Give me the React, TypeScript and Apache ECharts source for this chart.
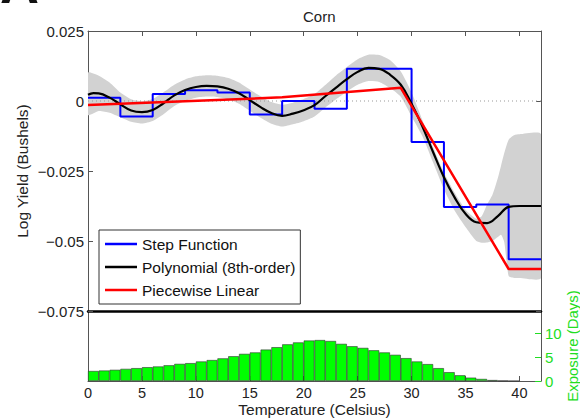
import React, { useEffect, useRef } from "react";
import * as echarts from "echarts";

// ---- data ----
const stepEdges = [0, 3, 6, 9, 12, 15, 18, 21, 24, 27, 30, 33, 36, 39, 42];
const stepValues = [0.0012, -0.0055, 0.0025, 0.0038, 0.003, -0.0048, 0.0, -0.0028, 0.0115, 0.0115, -0.0146, -0.0379, -0.037, -0.0565];

const polyX = [0, 0.5, 1, 2, 3, 4, 5, 6, 7, 8, 9, 10, 11, 12, 13, 14, 15, 16, 17, 18, 19, 20, 21, 22, 23, 24, 25, 26, 27, 28, 29, 30, 31, 32, 33, 34, 35, 36, 37, 38, 39, 40, 42];
const polyY = [0.0022, 0.0028, 0.0027, 0.0012, -0.0012, -0.0034, -0.004, -0.0032, -0.0008, 0.002, 0.0039, 0.005, 0.0054, 0.0052, 0.0044, 0.0028, 0.0003, -0.0022, -0.0043, -0.0053, -0.0045, -0.0033, -0.0015, 0.0017, 0.0048, 0.0078, 0.0104, 0.0118, 0.0115, 0.0094, 0.0058, -0.001, -0.009, -0.0183, -0.0272, -0.0345, -0.0403, -0.0433, -0.0436, -0.0411, -0.0378, -0.0375, -0.0375];

const linX = [0, 18, 29, 39, 42];
const linY = [-0.0014, 0.0013, 0.0047, -0.06, -0.06];

const bandX = [0, 1, 2, 3, 4, 5, 6, 7, 8, 9, 10, 11, 12, 13, 14, 15, 16, 17, 18, 19, 20, 21, 22, 23, 24, 25, 26, 27, 28, 29, 30, 31, 32, 33, 34, 35, 36, 36.5, 37, 37.5, 38, 38.3, 38.6, 39, 39.5, 40, 42];
const bandHi = [0.0101, 0.009, 0.0066, 0.003, 0.0006, -0.0001, 0.0007, 0.0031, 0.0058, 0.0077, 0.0088, 0.0092, 0.009, 0.0082, 0.0066, 0.0041, 0.0017, -0.0004, -0.0013, -0.0006, 0.0007, 0.0025, 0.0057, 0.0091, 0.0121, 0.0149, 0.0165, 0.0164, 0.0146, 0.0105, 0.003, -0.0068, -0.0165, -0.0255, -0.0328, -0.0388, -0.042, -0.0412, -0.037, -0.0335, -0.0275, -0.023, -0.0185, -0.0138, -0.0122, -0.0119, -0.0119];
const bandLo = [-0.005, -0.0036, -0.0042, -0.0058, -0.0074, -0.008, -0.0071, -0.0047, -0.0018, 0.0001, 0.0012, 0.0016, 0.0014, 0.0006, -0.001, -0.0035, -0.006, -0.0081, -0.0091, -0.0083, -0.0072, -0.0055, -0.0024, 0.0006, 0.0034, 0.0058, 0.0071, 0.0068, 0.0046, 0.0015, -0.0055, -0.0125, -0.022, -0.0315, -0.0392, -0.045, -0.05, -0.0506, -0.0505, -0.05, -0.0486, -0.0478, -0.0505, -0.0625, -0.0632, -0.0632, -0.0632];

// exposure histogram, 1-degree bins starting at 0
const exposureDays = [2.1, 2.2, 2.35, 2.55, 2.7, 2.9, 3.05, 3.3, 3.6, 3.75, 4.1, 4.4, 4.75, 5.2, 5.7, 6.0, 6.6, 7.1, 7.7, 8.1, 8.5, 8.6, 8.4, 7.8, 7.3, 6.95, 6.45, 6.0, 5.5, 4.8, 4.1, 3.55, 2.7, 1.85, 1.2, 0.7, 0.43, 0.2, 0.07, 0];

const FONT = "Liberation Sans, Arial, Helvetica, sans-serif";

export default function App() {
  const ref = useRef<HTMLDivElement>(null);
  useEffect(() => {
    if (!ref.current) return;
    const chart = echarts.init(ref.current, null, { renderer: "svg" });
    const fmt = (v: number) => {
      const r = Math.round(v * 1000) / 1000;
      if (r === 0) return "0";
      return String(r).replace("-", "\u2212");
    };
    const option: any = {
      animation: false,
      textStyle: { fontFamily: FONT },
      title: {
        text: "Corn",
        left: 298,
        top: 4,
        textStyle: { fontFamily: FONT, fontSize: 15, fontWeight: "normal", color: "#222" },
      },
      graphic: [
        {
          type: "text",
          x: 0,
          y: -16,
          style: { text: "A", font: `bold 54px ${FONT}`, fill: "#111", verticalAlign: "middle" },
        },
      ],
      legend: {
        data: ["Step Function", "Polynomial (8th-order)", "Piecewise Linear"],
        orient: "vertical",
        left: 99,
        top: 230,
        padding: [6, 5, 6, 6],
        itemGap: 7,
        itemWidth: 32,
        itemHeight: 2.5,
        icon: "rect",
        backgroundColor: "#fff",
        borderColor: "#333",
        borderWidth: 1,
        borderRadius: 0,
        textStyle: { fontFamily: FONT, fontSize: 15.5, color: "#111" },
      },
      grid: [
        { left: 88, top: 31, width: 453, height: 280, outerBoundsMode: "none", containLabel: false },
        { left: 88, top: 311, width: 453, height: 70, outerBoundsMode: "none", containLabel: false },
      ],
      xAxis: [
        {
          gridIndex: 0, type: "value", min: 0, max: 42, interval: 5, position: "bottom",
          axisLine: { show: true, onZero: false, lineStyle: { color: "#000", width: 2.5 } },
          axisTick: { show: false }, axisLabel: { show: false }, splitLine: { show: false },
        },
        {
          gridIndex: 0, type: "value", min: 0, max: 42, interval: 5, position: "top",
          axisLine: { show: true, onZero: false, lineStyle: { color: "#555", width: 1 } },
          axisTick: { show: true, inside: true, length: 5, lineStyle: { color: "#555" } },
          axisLabel: { show: false }, splitLine: { show: false },
        },
        {
          gridIndex: 1, type: "value", min: 0, max: 42, interval: 5, position: "bottom",
          axisLine: { show: true, onZero: false, lineStyle: { color: "#555", width: 1 } },
          axisTick: { show: true, inside: true, length: 5, lineStyle: { color: "#555" } },
          axisLabel: { show: true, margin: 4, fontSize: 14.5, color: "#222", fontFamily: FONT, showMaxLabel: false },
          splitLine: { show: false },
          name: "Temperature (Celsius)", nameLocation: "middle", nameGap: 20, nameMoveOverlap: false,
          nameTextStyle: { fontSize: 15.5, color: "#222", fontFamily: FONT },
        },
      ],
      yAxis: [
        {
          gridIndex: 0, type: "value", min: -0.075, max: 0.025, interval: 0.025, position: "left",
          axisLine: { show: true, onZero: false, lineStyle: { color: "#555", width: 1 } },
          axisTick: { show: true, inside: true, length: 5, lineStyle: { color: "#555" } },
          axisLabel: { show: true, margin: 4, fontSize: 15, color: "#222", fontFamily: FONT, formatter: fmt },
          splitLine: { show: false },
          name: "Log Yield (Bushels)", nameLocation: "middle", nameGap: 58, nameMoveOverlap: false,
          nameTextStyle: { fontSize: 15.5, color: "#222", fontFamily: FONT },
        },
        {
          gridIndex: 0, type: "value", min: -0.075, max: 0.025, interval: 0.025, position: "right",
          axisLine: { show: true, onZero: false, lineStyle: { color: "#555", width: 1 } },
          axisTick: { show: true, inside: true, length: 5, lineStyle: { color: "#555" } },
          axisLabel: { show: false }, splitLine: { show: false },
        },
        {
          gridIndex: 1, type: "value", min: 0, max: 14.7, position: "left",
          axisLine: { show: true, onZero: false, lineStyle: { color: "#555", width: 1 } },
          axisTick: { show: false }, axisLabel: { show: false }, splitLine: { show: false },
        },
        {
          gridIndex: 1, type: "value", min: 0, max: 14.7, interval: 5, position: "right",
          axisLine: { show: true, onZero: false, lineStyle: { color: "#555", width: 1 } },
          axisTick: { show: true, inside: true, length: 6, lineStyle: { color: "#22dd22" } },
          axisLabel: { show: true, margin: 4, fontSize: 15, color: "#22dd22", fontFamily: FONT, showMaxLabel: false },
          splitLine: { show: false },
          name: "Exposure (Days)", nameLocation: "middle", nameGap: 24, nameMoveOverlap: false,
          nameTextStyle: { fontSize: 15, color: "#22dd22", fontFamily: FONT },
        },
      ],
      series: [
        {
          name: "band", type: "custom", xAxisIndex: 0, yAxisIndex: 0,
          data: [[0, 0]], silent: true, clip: true, z: 1,
          renderItem: (_params: any, api: any) => {
            const upper = bandX.map((x, i) => api.coord([x, bandHi[i]]));
            const lower = bandX.map((x, i) => api.coord([x, bandLo[i]])).reverse();
            return {
              type: "polygon",
              shape: { points: upper.concat(lower), smooth: 0.2 },
              style: { fill: "#d2d2d2", stroke: "none" },
              silent: true,
            };
          },
        },
        {
          name: "zero", type: "line", xAxisIndex: 0, yAxisIndex: 0,
          data: [[0, 0], [42, 0]], symbol: "none", silent: true, z: 2,
          lineStyle: { color: "#999", width: 1, type: [1, 3] },
        },
        {
          name: "Step Function", type: "line", xAxisIndex: 0, yAxisIndex: 0,
          data: stepEdges.map((x, i) => [x, stepValues[Math.min(i, stepValues.length - 1)]]),
          step: "end", symbol: "none", z: 3,
          itemStyle: { color: "#0000ff" },
          lineStyle: { color: "#0000ff", width: 2 },
        },
        {
          name: "Polynomial (8th-order)", type: "line", xAxisIndex: 0, yAxisIndex: 0,
          data: polyX.map((x, i) => [x, polyY[i]]),
          smooth: 0.4, symbol: "none", z: 4,
          itemStyle: { color: "#000" },
          lineStyle: { color: "#000", width: 2.2 },
        },
        {
          name: "Piecewise Linear", type: "line", xAxisIndex: 0, yAxisIndex: 0,
          data: linX.map((x, i) => [x, linY[i]]),
          symbol: "none", z: 5,
          itemStyle: { color: "#ff0000" },
          lineStyle: { color: "#ff0000", width: 2.5 },
        },
        {
          name: "Exposure", type: "bar", xAxisIndex: 2, yAxisIndex: 3,
          data: exposureDays.map((v, i) => [i + 0.5, v]),
          barWidth: "100%",
          itemStyle: { color: "#00ff00", borderColor: "#333", borderWidth: 0.6 },
          silent: true,
        },
      ],
    };
    chart.setOption(option);
    return () => chart.dispose();
  }, []);
  return (
    <div
      ref={ref}
      style={{ position: "fixed", left: 0, top: 0, width: 580, height: 420, background: "#fff" }}
    />
  );
}
